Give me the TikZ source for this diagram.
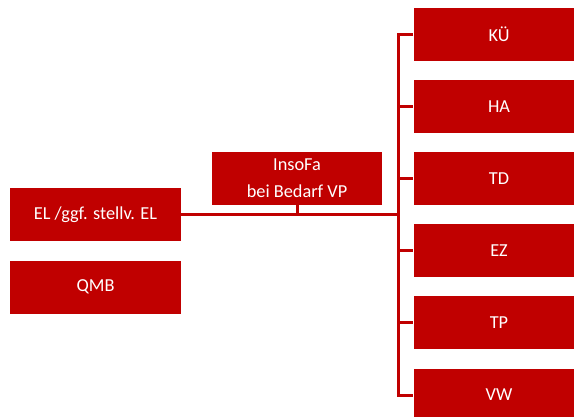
\documentclass[tikz,border=0pt]{standalone}
\usepackage{fontspec}
\setmainfont{Carlito}
\usepackage{xcolor}
\usetikzlibrary{positioning, calc}
\definecolor{orgred}{HTML}{C00000}

\begin{document}
\begin{tikzpicture}[x=1pt, y=-1pt,
    unit/.style={fill=orgred, text=white, font=\fontsize{18.3}{27}\selectfont, align=center,
        minimum width=171pt, minimum height=53pt, inner sep=0pt},
    link/.style={orgred, line width=3pt}]
    \useasboundingbox (0, 0) rectangle (574, 416);
    \clip (0, 0) rectangle (574, 416);

    \node[unit] (el) at (95.5, 214.5) {EL /ggf. stellv. EL};
    \node[unit] (qmb) at (95.5, 287) {QMB};
    \node[unit, minimum width=170pt] (insofa) at (297, 178.5) {InsoFa\\bei Bedarf VP};

    \foreach \name/\txt/\y in {kue/KÜ/34.3, ha/HA/106.3, td/TD/178.5, ez/EZ/250.7, tp/TP/322.7, vw/VW/395} {
        \node[unit] (\name) at (499, \y) {\txt};
    }

    \coordinate (bus) at (398, 214);
    \draw[link] (el.east |- bus) -- (bus);
    \draw[link] (insofa.south) -- (insofa.south |- bus);
    \draw[link] (kue.west) -- (bus |- kue.west) -- (bus |- vw.west) -- (vw.west);
    \foreach \name in {ha, td, ez, tp} {
        \draw[link] (bus |- \name.west) -- (\name.west);
    }
\end{tikzpicture}
\end{document}
